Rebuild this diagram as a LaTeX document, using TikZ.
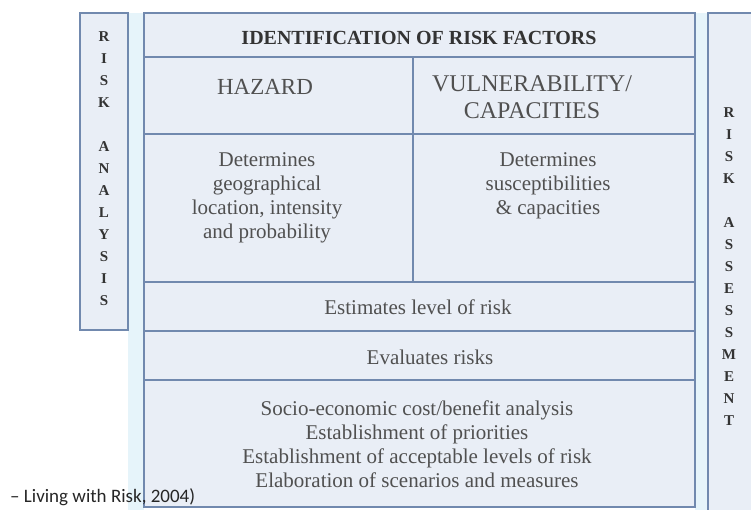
\documentclass[tikz,border=0pt]{standalone}
\usepackage{fontspec}
\setmainfont{Liberation Serif}
\newfontfamily\capfont{Carlito}
\definecolor{edge}{HTML}{7189AE}
\definecolor{cellfill}{HTML}{E9EEF6}
\definecolor{gapfill}{HTML}{E6F4FA}
\definecolor{txt}{HTML}{505050}
\begin{document}
\begin{tikzpicture}[x=1pt,y=-1pt,
  cell/.style={draw=edge, line width=1.6pt, fill=cellfill},
  body/.style={text=txt, font=\fontsize{21}{24}\selectfont, align=center, inner sep=0pt},
  head/.style={text=txt, font=\fontsize{23}{27}\selectfont, align=center, inner sep=0pt},
  titlefont/.style={text=black!80, font=\bfseries\fontsize{20}{24}\selectfont, inner sep=0pt},
  vlet/.style={text=black!80, font=\bfseries\fontsize{15}{18}\selectfont, inner sep=0pt},
]
\useasboundingbox (0,0) rectangle (751,510);
\clip (0,0) rectangle (751,510);
\fill[gapfill] (128,13) rectangle (144,510);
\fill[gapfill] (695,13) rectangle (708,510);
% left column box
\draw[cell] (80,13) rectangle (128,330);
% main table
\draw[cell] (144,13) rectangle (695,57);
\draw[cell] (144,57) rectangle (413,134);
\draw[cell] (413,57) rectangle (695,134);
\draw[cell] (144,134) rectangle (413,282);
\draw[cell] (413,134) rectangle (695,282);
\draw[cell] (144,282) rectangle (695,331);
\draw[cell] (144,331) rectangle (695,380);
\draw[cell] (144,380) rectangle (695,507);
% right column box
\draw[cell] (708,13) rectangle (760,520);
% texts
\node[titlefont] (title) at (419,38) {IDENTIFICATION OF RISK FACTORS};
\node[head] (haz) at (265,87) {HAZARD};
\node[head, font=\fontsize{24}{27}\selectfont] (vul) at (532,97) {VULNERABILITY/\\CAPACITIES};
\node[body] (detl) at (267,198) {Determines\\geographical\\location, intensity\\and probability};
\node[body] (detr) at (548,186) {Determines\\susceptibilities\\\& capacities};
\node[body] (est) at (418,307) {Estimates level of risk};
\node[body] (eval) at (430,357) {Evaluates risks};
\node[body] (socio) at (417,444) {Socio-economic cost/benefit analysis\\Establishment of priorities\\Establishment of acceptable levels of risk\\Elaboration of scenarios and measures};
% vertical letters
\foreach \l [count=\i from 0] in {R,I,S,K,{},A,N,A,L,Y,S,I,S}
  \node[vlet] (la\i) at (104,37+22*\i) {\l};
\foreach \l [count=\i from 0] in {R,I,S,K,{},A,S,S,E,S,S,M,E,N,T}
  \node[vlet] (ra\i) at (729,113+22*\i) {\l};
% caption
\node[anchor=west, inner sep=0pt, text=black!85, font=\capfont\fontsize{19}{22}\selectfont] (cap) at (10,497) {– Living with Risk, 2004)};
\end{tikzpicture}
\end{document}
